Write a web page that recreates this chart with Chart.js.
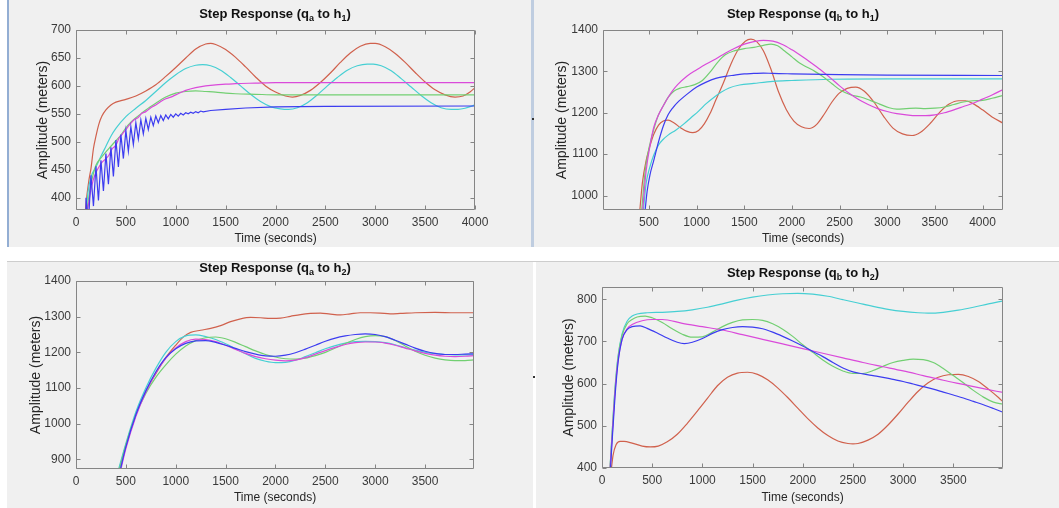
<!DOCTYPE html>
<html>
<head>
<meta charset="utf-8">
<script src="https://cdn.jsdelivr.net/npm/chart.js@4.4.1/dist/chart.umd.min.js"></script>
<style>
  body { margin: 0; background: #fff; }
  #fig { position: relative; width: 1059px; height: 508px; overflow: hidden; background: #fff;
         font-family: "Liberation Sans", Arial, sans-serif; }
  .panel { position: absolute; background: #f0f0f0; }
  .panel canvas { position: absolute; left: 0; top: 0; }
  .ttl { position: absolute; width: 300px; font-weight: bold; font-size: 13px; line-height: 14px;
         color: #111; text-align: center; white-space: nowrap; }
  .ttl sub { font-size: 9px; line-height: 0; vertical-align: -3px; }
  .rule { position: absolute; }
</style>
</head>
<body>
<div id="fig">
  <div class="panel" id="pA" style="left:9px;top:0;width:522px;height:247px;">
    <canvas id="cA" width="522" height="247"></canvas>
    <div class="ttl" style="left:116px;top:7px;">Step Response (q<sub>a</sub> to h<sub>1</sub>)</div>
  </div>
  <div class="rule" style="left:7px;top:0;width:2px;height:247px;background:#93aed3;"></div>

  <div class="panel" id="pB" style="left:534px;top:0;width:525px;height:247px;">
    <canvas id="cB" width="525" height="247"></canvas>
    <div class="ttl" style="left:119px;top:7px;">Step Response (q<sub>b</sub> to h<sub>1</sub>)</div>
  </div>
  <div class="rule" style="left:531px;top:0;width:3px;height:247px;background:#bfcde0;"></div>

  <div class="rule" style="left:7px;top:261px;width:1052px;height:1px;background:#cdcdcd;"></div>

  <div class="panel" id="pC" style="left:7px;top:262px;width:526px;height:246px;">
    <canvas id="cC" width="526" height="246"></canvas>
    <div class="ttl" style="left:118px;top:-1px;">Step Response (q<sub>a</sub> to h<sub>2</sub>)</div>
  </div>

  <div class="panel" id="pD" style="left:536px;top:262px;width:523px;height:246px;">
    <canvas id="cD" width="523" height="246"></canvas>
    <div class="ttl" style="left:117px;top:4px;">Step Response (q<sub>b</sub> to h<sub>2</sub>)</div>
  </div>
  <div class="rule" style="left:532px;top:118px;width:2px;height:2px;background:#333;"></div>
  <div class="rule" style="left:533px;top:376px;width:2px;height:2px;background:#333;"></div>
</div>

<script>
// ---- axis ticks ----
const xTicksA = [0, 500, 1000, 1500, 2000, 2500, 3000, 3500, 4000];
const xTicksB = [500, 1000, 1500, 2000, 2500, 3000, 3500, 4000];
const xTicksC = [0, 500, 1000, 1500, 2000, 2500, 3000, 3500];
const xTicksD = [0, 500, 1000, 1500, 2000, 2500, 3000, 3500];
const yTicksA = [400, 450, 500, 550, 600, 650, 700];
const yTicksB = [1000, 1100, 1200, 1300, 1400];
const yTicksC = [900, 1000, 1100, 1200, 1300, 1400];
const yTicksD = [400, 500, 600, 700, 800];

// ---- q_a -> h_1 ----
const qaH1Red = [[90,370],[110,405],[130,432],[150,452],[175,488],[200,510],[230,532],[260,546],[300,557],[350,566],[400,571],
  [500,576],[600,582],[700,591],[800,602],[900,617],[1000,633],[1100,650],[1200,666],[1300,675],[1350,676],[1400,674],
  [1500,665],[1600,651],[1700,634],[1800,616],[1900,600],[2000,589],[2100,582],[2170,580],[2250,583],[2350,592],
  [2450,606],[2550,623],[2650,642],[2750,659],[2850,671],[2950,676],[3000,676],[3100,670],[3200,658],[3300,642],
  [3400,624],[3500,607],[3600,593],[3700,584],[3800,580],[3880,582],[3950,589],[4000,597]];
const qaH1Cyan = [[100,370],[120,410],[150,437],[200,455],[250,474],[300,492],[350,510],[400,524],[500,545],[600,560],
  [700,574],[800,590],[900,606],[1000,620],[1100,631],[1200,637],[1270,638],[1350,636],[1450,628],[1550,615],[1650,600],
  [1750,585],[1850,572],[1950,563],[2050,559],[2130,558],[2220,561],[2320,570],[2420,584],[2520,600],[2620,615],
  [2720,628],[2820,636],[2920,639],[2980,639],[3060,636],[3160,627],[3260,613],[3360,598],[3460,583],[3560,570],
  [3660,561],[3760,558],[3830,558],[3900,560],[4000,566]];
const qaH1Magenta = [[110,370],[140,405],[170,430],[200,445],[230,455],[260,463],[300,470],[330,476],[360,487],[400,494],
  [430,506],[460,513],[500,522],[540,531],[580,539],[620,543],[660,551],[700,554],[750,561],[800,566],[850,572],[900,577],
  [950,580],[1000,584],[1100,592],[1200,597],[1300,600],[1400,602],[1500,603],[1600,604],[1800,605],[2000,606],[4000,606]];
const qaH1Green = [[105,370],[140,415],[170,440],[200,458],[250,471],[300,482],[350,492],[400,502],[450,512],[500,525],
  [550,535],[600,543],[650,550],[700,557],[800,569],[900,580],[1000,587],[1100,590],[1200,591],[1300,590],[1400,589],
  [1500,587],[1600,586],[1800,585],[2000,584],[4000,584]];
const qaH1Blue = [[95,370],[100,400],[125,355],[150,440],[175,385],[200,456],[225,395],[250,467],[275,412],[300,479],
  [325,424],[350,490],[375,438],[400,503],[425,455],[450,513],[475,470],[500,520],[525,483],[550,527],[575,495],[600,534],
  [625,505],[650,539],[675,514],[700,542],[725,522],[750,544],[775,529],[800,546],[825,534],[850,547],[875,538],[900,548],
  [925,541],[950,549],[975,544],[1000,550],[1025,546],[1050,551],[1075,548],[1100,552],[1125,550],[1150,553],[1175,551],
  [1200,554],[1225,552],[1250,555],[1275,553.5],[1350,556],[1500,558],[1700,560.5],[2000,562.5],[2500,563.5],[4000,564]];

// ---- q_b -> h_1 ----
const qbH1Red = [[400,955],[430,1030],[470,1085],[510,1120],[550,1148],[600,1170],[650,1180],[700,1182],[760,1176],
  [830,1164],[900,1155],[960,1152],[1020,1157],[1080,1173],[1140,1198],[1200,1230],[1280,1272],[1360,1318],[1440,1354],
  [1510,1373],[1570,1378],[1630,1372],[1700,1350],[1780,1305],[1860,1250],[1940,1208],[2020,1180],[2100,1166],
  [2180,1162],[2260,1172],[2340,1197],[2420,1226],[2500,1248],[2580,1259],[2670,1262],[2760,1252],[2860,1226],
  [2960,1192],[3060,1163],[3160,1149],[3260,1145],[3350,1153],[3450,1174],[3550,1201],[3650,1221],[3750,1229],
  [3820,1229],[3900,1222],[4000,1207],[4100,1190],[4215,1175]];
const qbH1Magenta = [[430,955],[470,1060],[510,1120],[550,1165],[600,1195],[650,1217],[700,1237],[750,1254],[800,1268],
  [900,1289],[1000,1304],[1100,1318],[1200,1330],[1300,1344],[1400,1356],[1500,1366],[1600,1372],[1700,1375],[1800,1373],
  [1900,1365],[2000,1352],[2100,1337],[2200,1321],[2300,1304],[2400,1285],[2500,1265],[2600,1247],[2700,1232],[2800,1220],
  [2900,1210],[3000,1203],[3100,1198],[3200,1195],[3300,1193],[3400,1193],[3500,1195],[3600,1200],[3700,1207],[3800,1215],
  [3900,1223],[4000,1233],[4100,1243],[4215,1256]];
const qbH1Green = [[420,955],[460,1060],[500,1115],[550,1160],[600,1195],[650,1217],[700,1237],[760,1252],[820,1259],
  [900,1263],[980,1268],[1060,1278],[1140,1298],[1220,1322],[1300,1340],[1400,1350],[1500,1355],[1600,1358],[1700,1363],
  [1780,1366],[1850,1362],[1920,1350],[2000,1335],[2080,1320],[2160,1310],[2240,1300],[2320,1288],[2420,1270],[2520,1253],
  [2620,1243],[2720,1238],[2820,1230],[2920,1221],[3020,1212],[3100,1209],[3200,1210],[3300,1211],[3400,1210],[3500,1211],
  [3600,1214],[3700,1220],[3800,1226],[3900,1229],[4000,1230],[4100,1235],[4215,1242]];
const qbH1Blue = [[455,955],[480,1010],[510,1050],[550,1085],[600,1130],[650,1168],[700,1195],[750,1212],[800,1225],
  [900,1245],[1000,1262],[1100,1274],[1200,1283],[1300,1288],[1400,1291],[1500,1294],[1600,1295],[1700,1296],[1800,1295],
  [2000,1294],[2500,1292],[3000,1291],[4215,1290]];
const qbH1Cyan = [[437,955],[470,1030],[510,1070],[550,1098],[600,1122],[650,1136],[700,1146],[780,1158],[860,1172],
  [940,1188],[1020,1204],[1100,1222],[1180,1237],[1260,1250],[1340,1260],[1450,1267],[1600,1271],[1800,1276],[2000,1278],
  [2400,1281],[3000,1282],[4215,1282]];

// ---- q_a -> h_2 ----
const qaH2Red = [[420,860],[500,940],[600,1025],[700,1090],[800,1140],[900,1185],[1000,1220],[1080,1244],[1150,1256],
  [1250,1262],[1350,1267],[1450,1275],[1550,1286],[1650,1294],[1750,1298],[1850,1297],[1950,1295],[2050,1296],[2150,1301],
  [2250,1306],[2350,1309],[2450,1310],[2550,1307],[2650,1305],[2750,1308],[2850,1311],[2950,1311],[3050,1310],[3150,1308],
  [3250,1309],[3400,1311],[3600,1312],[3800,1311],[3995,1311]];
const qaH2Cyan = [[415,860],[500,945],[600,1033],[700,1100],[800,1155],[900,1200],[1000,1230],[1100,1246],[1200,1249],
  [1300,1244],[1400,1236],[1500,1224],[1600,1210],[1700,1196],[1800,1183],[1900,1175],[2000,1171],[2100,1172],[2200,1178],
  [2300,1188],[2400,1199],[2500,1210],[2600,1219],[2700,1226],[2800,1230],[2900,1231],[3000,1230],[3100,1227],[3200,1221],
  [3300,1213],[3400,1206],[3500,1200],[3600,1196],[3700,1194],[3800,1193],[3995,1193]];
const qaH2Magenta = [[440,860],[500,930],[600,1020],[700,1088],[800,1142],[900,1183],[1000,1212],[1100,1230],[1200,1237],
  [1300,1236],[1400,1230],[1500,1220],[1600,1208],[1700,1197],[1800,1188],[1900,1182],[2000,1178],[2100,1176],[2200,1178],
  [2300,1185],[2400,1195],[2500,1205],[2600,1214],[2700,1222],[2800,1227],[2900,1229],[3000,1229],[3100,1226],[3200,1220],
  [3300,1212],[3400,1204],[3500,1197],[3600,1192],[3700,1189],[3800,1188],[3900,1189],[3995,1191]];
const qaH2Blue = [[435,860],[500,935],[600,1025],[700,1092],[800,1145],[900,1185],[1000,1210],[1100,1225],[1200,1232],
  [1300,1233],[1400,1228],[1500,1220],[1600,1211],[1700,1202],[1800,1195],[1900,1190],[2000,1189],[2100,1192],[2200,1199],
  [2300,1209],[2400,1220],[2500,1231],[2600,1240],[2700,1246],[2800,1250],[2900,1252],[3000,1250],[3100,1244],[3200,1234],
  [3300,1223],[3400,1212],[3500,1203],[3600,1197],[3700,1194],[3800,1194],[3900,1195],[3995,1196]];
const qaH2Green = [[425,860],[500,940],[600,1025],[700,1085],[800,1130],[900,1165],[1000,1195],[1100,1218],[1200,1233],
  [1300,1241],[1400,1243],[1500,1238],[1600,1228],[1700,1216],[1800,1204],[1900,1194],[2000,1187],[2100,1182],[2200,1181],
  [2300,1184],[2400,1191],[2500,1200],[2600,1212],[2700,1225],[2800,1236],[2900,1244],[3000,1247],[3100,1244],[3200,1233],
  [3300,1218],[3400,1203],[3500,1192],[3600,1184],[3700,1179],[3800,1177],[3900,1177],[3995,1179]];

// ---- q_b -> h_2 ----
const qbH2Cyan = [[75,380],[100,480],[130,590],[160,665],[200,718],[250,748],[300,760],[350,765],[450,768],[600,769],
  [750,771],[900,775],[1050,781],[1200,789],[1350,798],[1500,805],[1650,810],[1800,813],[1950,814],[2100,812],[2250,807],
  [2400,799],[2550,791],[2700,783],[2850,776],[3000,771],[3150,768],[3250,767],[3400,769],[3550,774],[3700,781],
  [3850,789],[3995,796]];
const qbH2Green = [[75,380],[100,480],[130,588],[160,662],[200,714],[250,742],[300,752],[350,758],[430,760],[500,756],
  [600,745],[700,730],[800,717],[900,710],[1000,711],[1100,722],[1200,735],[1300,745],[1400,751],[1500,752],[1600,750],
  [1700,742],[1800,729],[1900,712],[2000,692],[2100,674],[2200,656],[2300,641],[2400,630],[2500,624],[2600,624],
  [2700,631],[2800,641],[2900,650],[3000,655],[3100,658],[3200,657],[3300,650],[3400,636],[3500,619],[3600,602],
  [3700,584],[3800,568],[3900,556],[3995,551]];
const qbH2Magenta = [[75,380],[100,470],[130,580],[160,655],[200,705],[250,730],[300,740],[400,749],[500,752],[600,752],
  [800,743],[1000,735],[1200,727],[1400,716],[1600,705],[1800,694],[2000,683],[2200,672],[2400,661],[2600,650],[2800,640],
  [3000,630],[3200,619],[3400,608],[3600,598],[3800,588],[3995,579]];
const qbH2Blue = [[80,380],[100,460],[130,570],[160,650],[200,705],[250,728],[300,735],[380,737],[450,731],[550,720],
  [650,708],[750,698],[820,695],[900,698],[1000,707],[1100,719],[1200,728],[1300,733],[1400,735],[1500,734],[1600,730],
  [1700,722],[1800,712],[1900,701],[2000,689],[2100,676],[2200,664],[2300,650],[2400,637],[2500,628],[2600,623],
  [2700,619],[2800,615],[2900,610],[3000,605],[3100,599],[3200,593],[3300,587],[3400,580],[3500,573],[3600,566],
  [3700,558],[3800,550],[3900,541],[3995,532]];
const qbH2Red = [[85,380],[110,430],[140,455],[180,463],[220,463],[300,459],[400,452],[480,450],[560,452],[650,462],
  [750,480],[850,506],[950,535],[1050,565],[1150,595],[1250,615],[1350,625],[1450,627],[1550,622],[1650,609],[1750,590],
  [1850,567],[1950,542],[2050,517],[2150,495],[2250,477],[2350,464],[2450,458],[2500,457],[2550,458],[2650,466],
  [2750,480],[2850,502],[2950,528],[3050,556],[3150,582],[3250,602],[3350,615],[3450,621],[3550,622],[3650,617],
  [3750,605],[3850,587],[3950,567],[3995,557]];

const RED = '#d0614d', GREEN = '#72cf72', BLUE = '#3c3cf0', CYAN = '#46cfd3', MAGENTA = '#da4ada';
const FONT = '"Liberation Sans", Arial, sans-serif';

function series(pts, color, smooth = true) {
  return {
    data: pts.map(p => ({ x: p[0], y: p[1] })),
    borderColor: color,
    borderWidth: 1.2,
    pointRadius: 0,
    fill: false,
    tension: 0,
    cubicInterpolationMode: smooth ? 'monotone' : 'default'
  };
}

// MATLAB-style box with inward ticks on all four sides
const boxTicks = {
  id: 'boxTicks',
  afterDatasetsDraw(chart) {
    const { ctx, chartArea: a, scales: { x, y } } = chart;
    const L = Math.round(a.left) + 0.5, R = Math.round(a.right) - 0.5;
    const T = Math.round(a.top) + 0.5, B = Math.round(a.bottom) - 0.5;
    ctx.save();
    ctx.strokeStyle = '#858585';
    ctx.lineWidth = 1;
    ctx.beginPath();
    ctx.rect(L, T, R - L, B - T);
    x.ticks.forEach(t => {
      const px = Math.round(x.getPixelForValue(t.value)) + 0.5;
      ctx.moveTo(px, B); ctx.lineTo(px, B - 4);
      ctx.moveTo(px, T); ctx.lineTo(px, T + 4);
    });
    y.ticks.forEach(t => {
      const py = Math.round(y.getPixelForValue(t.value)) + 0.5;
      ctx.moveTo(L, py); ctx.lineTo(L + 4, py);
      ctx.moveTo(R, py); ctx.lineTo(R - 4, py);
    });
    ctx.stroke();
    ctx.restore();
  }
};

function makeChart(id, datasets, ax) {
  const tickFont = { family: FONT, size: 12 };
  return new Chart(document.getElementById(id), {
    type: 'line',
    data: { datasets },
    plugins: [boxTicks],
    options: {
      responsive: false,
      animation: false,
      devicePixelRatio: 1,
      layout: { padding: { left: 0, top: ax.top, right: ax.right, bottom: 0 } },
      plugins: { legend: { display: false }, tooltip: { enabled: false } },
      scales: {
        x: {
          type: 'linear', min: ax.xMin, max: ax.xMax, bounds: 'data',
          grid: { display: false, drawTicks: false }, border: { display: false },
          afterBuildTicks: s => { s.ticks = ax.xTicks.map(v => ({ value: v })); },
          afterFit: s => { s.height = ax.xh; },
          ticks: { autoSkip: false, maxRotation: 0, padding: 5, color: '#3a3a3a', font: tickFont,
                   callback: v => String(v) },
          title: { display: true, text: 'Time (seconds)', color: '#262626', font: { family: FONT, size: 12 },
                   padding: { top: 0, bottom: ax.xtPad } }
        },
        y: {
          type: 'linear', min: ax.yMin, max: ax.yMax, bounds: 'data',
          grid: { display: false, drawTicks: false }, border: { display: false },
          afterBuildTicks: s => { s.ticks = ax.yTicks.map(v => ({ value: v })); },
          afterFit: s => { s.width = ax.yw; },
          ticks: { autoSkip: false, padding: 5, color: '#3a3a3a', font: tickFont,
                   callback: v => String(v) },
          title: { display: true, text: 'Amplitude (meters)', color: '#262626', font: { family: FONT, size: 14 },
                   padding: { top: ax.ytPad, bottom: 0 } }
        }
      }
    }
  });
}

makeChart('cA', [
  series(qaH1Blue, BLUE, false), series(qaH1Magenta, MAGENTA), series(qaH1Green, GREEN),
  series(qaH1Cyan, CYAN), series(qaH1Red, RED)
], { xMin: 0, xMax: 4000, yMin: 378, yMax: 700, xTicks: xTicksA, yTicks: yTicksA,
     top: 30, right: 56, xh: 37, yw: 67, xtPad: 1, ytPad: 26 });

makeChart('cB', [
  series(qbH1Blue, BLUE), series(qbH1Magenta, MAGENTA), series(qbH1Green, GREEN),
  series(qbH1Cyan, CYAN), series(qbH1Red, RED)
], { xMin: 17, xMax: 4215, yMin: 965, yMax: 1400, xTicks: xTicksB, yTicks: yTicksB,
     top: 30, right: 56, xh: 37, yw: 69, xtPad: 1, ytPad: 20 });

makeChart('cC', [
  series(qaH2Blue, BLUE), series(qaH2Magenta, MAGENTA), series(qaH2Green, GREEN),
  series(qaH2Cyan, CYAN), series(qaH2Red, RED)
], { xMin: 0, xMax: 3990, yMin: 873, yMax: 1400, xTicks: xTicksC, yTicks: yTicksC,
     top: 19, right: 59, xh: 39, yw: 69, xtPad: 3.5, ytPad: 21 });

makeChart('cD', [
  series(qbH2Blue, BLUE), series(qbH2Magenta, MAGENTA), series(qbH2Green, GREEN),
  series(qbH2Cyan, CYAN), series(qbH2Red, RED)
], { xMin: 0, xMax: 3995, yMin: 400, yMax: 829, xTicks: xTicksD, yTicks: yTicksD,
     top: 25, right: 56, xh: 40, yw: 66, xtPad: 3.5, ytPad: 25 });
</script>
</body>
</html>
